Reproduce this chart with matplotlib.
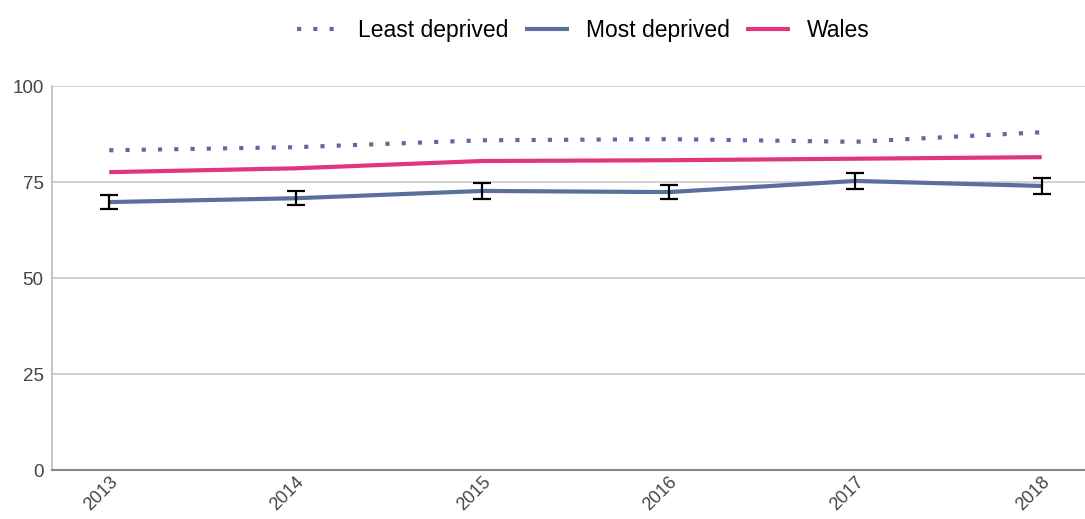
import matplotlib
matplotlib.use("Agg")
import matplotlib.pyplot as plt
from matplotlib.lines import Line2D

plt.rcParams['font.family'] = ['Liberation Sans', 'DejaVu Sans']

years = ["2013", "2014", "2015", "2016", "2017", "2018"]
least_deprived = [83.3, 84.1, 85.9, 86.2, 85.5, 88.0]
most_deprived = [69.8, 70.8, 72.7, 72.4, 75.3, 74.0]
most_deprived_err = [1.8, 1.8, 2.0, 1.9, 2.0, 2.2]
wales = [77.6, 78.6, 80.5, 80.7, 81.1, 81.5]
y_ticks = [0, 25, 50, 75, 100]

blue = "#5a6f9c"
pink = "#e0357f"
dots = (0, (1, 2.9))

fig = plt.figure(figsize=(10.85, 5.19), dpi=100)
ax = fig.add_axes([0.0479, 0.0944, 0.9521, 0.7396])

x = list(range(len(years)))
ax.plot(x, least_deprived, color=blue, lw=3, linestyle=dots, dash_capstyle='butt', zorder=3)
ax.plot(x, wales, color=pink, lw=3, zorder=3, solid_capstyle='butt')
ax.plot(x, most_deprived, color=blue, lw=3, zorder=3, solid_capstyle='butt')
ax.errorbar(x, most_deprived, yerr=most_deprived_err, fmt='none', ecolor='black',
            elinewidth=1.6, capsize=6.5, capthick=1.6, zorder=4)

ax.set_ylim(0, 100)
ax.set_xlim(-0.307, 5.232)
ax.set_yticks(y_ticks)
ax.set_xticks(x)
ax.set_xticklabels(years, rotation=45, ha='right', rotation_mode='anchor')
ax.tick_params(axis='both', length=0, colors='#444444')
ax.tick_params(axis='y', pad=6, labelsize=13.5)
ax.tick_params(axis='x', pad=2.5, labelsize=13)
ax.grid(axis='y', color='#c8c8c8', lw=1.2)
ax.set_axisbelow(True)
for s in ['top', 'right']:
    ax.spines[s].set_visible(False)
ax.spines['left'].set_color('#bbbbbb')
ax.spines['left'].set_linewidth(1.2)
ax.spines['bottom'].set_color('#888888')
ax.spines['bottom'].set_linewidth(1.5)

handles = [
    Line2D([], [], color=blue, lw=3, linestyle=dots, dash_capstyle='butt'),
    Line2D([], [], color=blue, lw=3, solid_capstyle='butt'),
    Line2D([], [], color=pink, lw=3, solid_capstyle='butt'),
]
fig.legend(handles, ["Least deprived", "Most deprived", "Wales"], loc='center',
           bbox_to_anchor=(0.5378, 0.942), ncol=3, frameon=False, fontsize=16.5,
           handlelength=1.92, columnspacing=0.7, handletextpad=0.75)

fig.savefig("out.png", dpi=100)
